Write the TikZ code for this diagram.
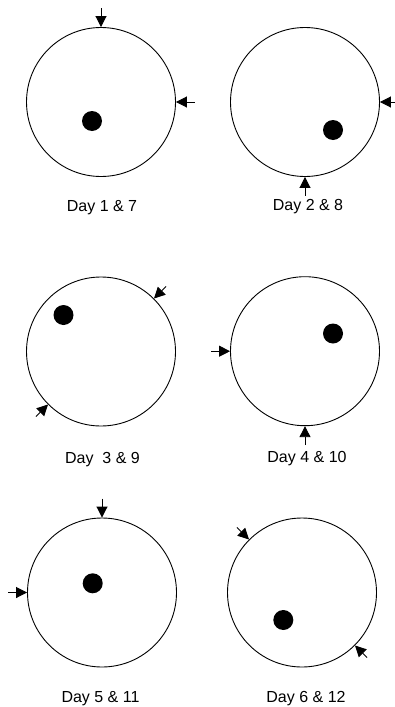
\documentclass[tikz,border=0pt]{standalone}
\usepackage{fontspec}
\setmainfont{Liberation Sans}
\usepackage{tikz}
\usetikzlibrary{calc}
\usetikzlibrary{arrows.meta}

\begin{document}
\begin{tikzpicture}[
    x=1pt,
    y=1pt,
    >={Triangle[length=11pt,width=11pt]},
    dayring/.style={circle,draw,line width=0.9pt,minimum size=149pt,inner sep=0pt},
    spot/.style={circle,fill=black,minimum size=20pt,inner sep=0pt},
    pointer/.style={->,line width=0.9pt},
    daylabel/.style={anchor=base,font=\fontsize{16}{19}\selectfont}
]

\useasboundingbox (0,0) rectangle (394,-707);

%------------------------------------------------------------
% Circles
%------------------------------------------------------------

\node[dayring] (c1) at (101,-102) {};     % day 1 & 7
\node[dayring] (c2) at (305,-102) {};     % day 2 & 8
\node[dayring] (c3) at (101,-351.5) {};   % day 3 & 9
\node[dayring] (c4) at (305,-351.2) {};   % day 4 & 10
\node[dayring] (c5) at (102,-592.5) {};   % day 5 & 11
\node[dayring] (c6) at (302,-592.5) {};   % day 6 & 12

%------------------------------------------------------------
% Dots
%------------------------------------------------------------

\node[spot] (d1) at (92,-121) {};
\node[spot] (d2) at (333,-130) {};
\node[spot] (d3) at (63.5,-315) {};
\node[spot] (d4) at (333,-333.5) {};
\node[spot] (d5) at (92.7,-583.3) {};
\node[spot] (d6) at (283.3,-620) {};

%------------------------------------------------------------
% Arrows on the rims
%------------------------------------------------------------

% day 1 & 7
\draw[pointer]
($(c1.north)+(0,19)$)--(c1.north);

\draw[pointer]
($(c1.east)+(19,0)$)--(c1.east);

% day 2 & 8
\draw[pointer]
($(c2.east)+(15,0)$)--(c2.east);

\draw[pointer]
($(c2.south)+(0,-19)$)--(c2.south);

% day 3 & 9
\draw[pointer]
($(c3.45)+(45:17)$)--(c3.45);

\draw[pointer]
($(c3.225)+(225:17)$)--(c3.225);

% day 4 & 10
\draw[pointer]
($(c4.west)+(-19,0)$)--(c4.west);

\draw[pointer]
($(c4.south)+(0,-19)$)--(c4.south);

% day 5 & 11
\draw[pointer]
($(c5.north)+(0,19)$)--(c5.north);

\draw[pointer]
($(c5.west)+(-19,0)$)--(c5.west);

% day 6 & 12
\draw[pointer]
($(c6.135)+(135:17)$)--(c6.135);

\draw[pointer]
($(c6.-45)+(-45:17)$)--(c6.-45);

%------------------------------------------------------------
% Labels
%------------------------------------------------------------

\node[daylabel] (l1) at (102,-211) {Day 1 \& 7};
\node[daylabel] (l2) at (308,-210) {Day 2 \& 8};
\node[daylabel] (l3) at (102.5,-463) {Day \ 3 \& 9};
\node[daylabel] (l4) at (307,-462) {Day 4 \& 10};
\node[daylabel] (l5) at (100.5,-702) {Day 5 \& 11};
\node[daylabel] (l6) at (306,-702) {Day 6 \& 12};

\end{tikzpicture}
\end{document}
